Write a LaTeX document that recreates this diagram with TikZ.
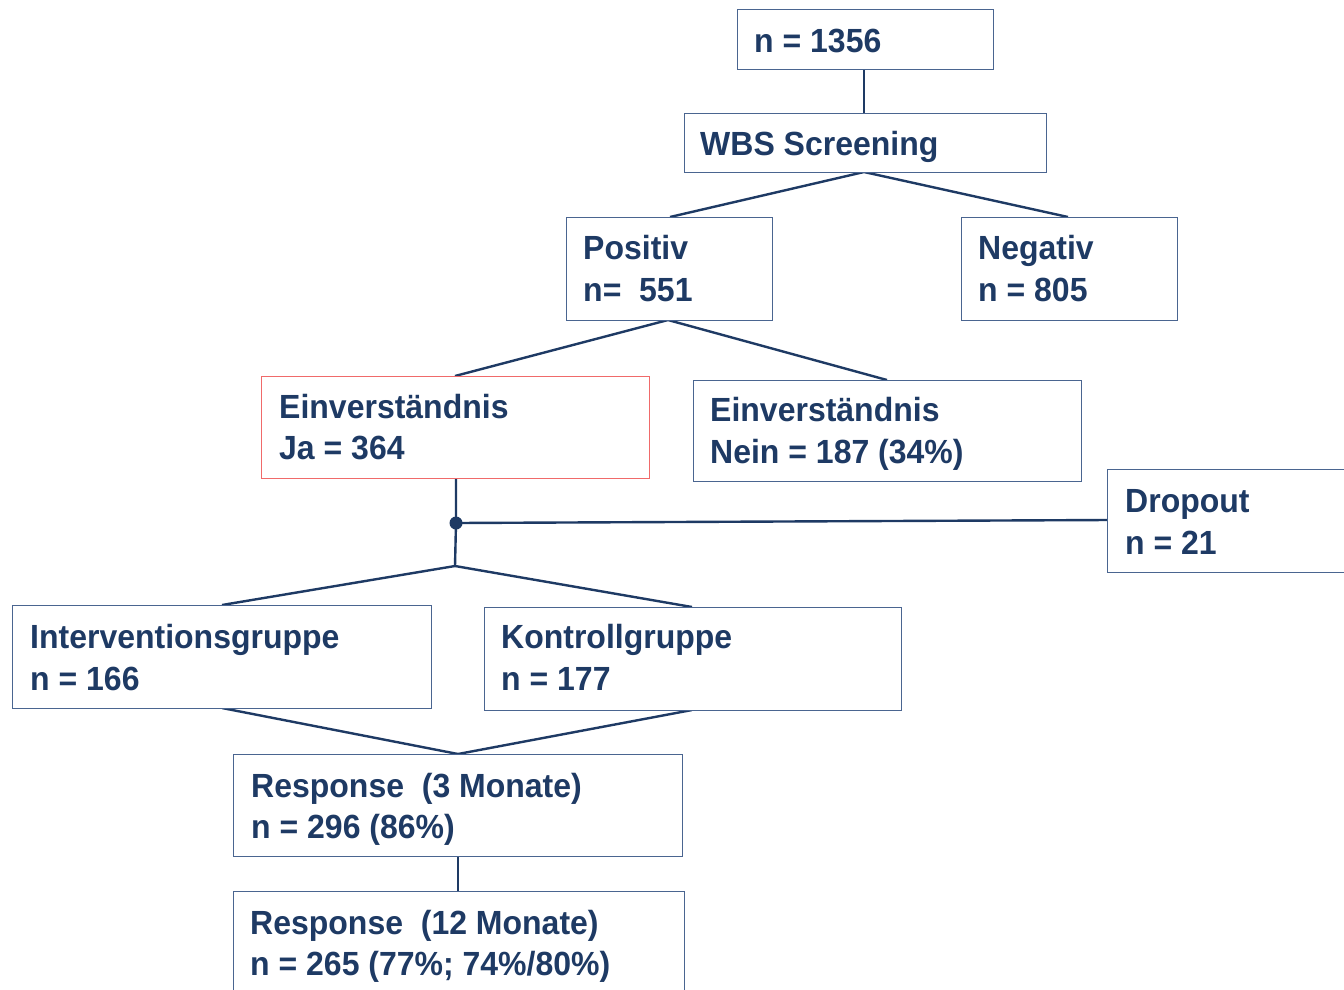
\documentclass[tikz,border=0pt]{standalone}
\usepackage{fontspec}
\setmainfont{Liberation Sans}[FakeStretch=0.955]
\definecolor{navy}{HTML}{1E3A64}
\definecolor{boxline}{HTML}{4A6590}
\definecolor{redline}{HTML}{F06A6A}
\tikzset{
  box/.style={draw=boxline, line width=1.3pt, fill=white, rectangle, inner sep=0pt, anchor=north west},
  redbox/.style={box, draw=redline},
  txt/.style={text=navy, font=\fontsize{33.5}{40}\selectfont\bfseries, inner sep=0pt, anchor=base west},
  conn/.style={draw=navy, line width=2.4pt},
}
\begin{document}
\begin{tikzpicture}[x=1pt,y=-1pt]
\useasboundingbox (0,0) rectangle (1344,989);
\clip (0,0) rectangle (1344,989);
\fill[white] (0,0) rectangle (1344,989);
% connector points
\coordinate (j1) at (456,523);
\coordinate (j2) at (455,566);
\coordinate (top1) at (864,69);
\coordinate (w1) at (864,113);
\coordinate (w2) at (864,172);
\coordinate (p1) at (670,217);
\coordinate (n1) at (1068,217);
\coordinate (p2) at (668,320);
\coordinate (e1) at (455,376);
\coordinate (e2) at (887,380);
\coordinate (e3) at (456,478);
\coordinate (d1) at (1107,520);
\coordinate (i1) at (222,605);
\coordinate (k1) at (692,607);
\coordinate (i2) at (222,708);
\coordinate (k2) at (692,710);
\coordinate (r1) at (458,754);
\coordinate (r2) at (458,856);
\coordinate (r3) at (458,891);
\draw[conn] (top1) -- (w1);
\draw[conn] (p1) -- (w2) -- (n1);
\draw[conn] (e1) -- (p2) -- (e2);
\draw[conn] (e3) -- (j1) -- (j2);
\draw[conn] (j1) -- (d1);
\draw[conn] (i1) -- (j2) -- (k1);
\draw[conn] (i2) -- (r1) -- (k2);
\draw[conn] (r2) -- (r3);
\fill[navy] (j1) circle (6.5);
% boxes
\node[box, minimum width=256pt, minimum height=60pt] (b1) at (737,9) {};
\node[box, minimum width=362pt, minimum height=59pt] (b2) at (684,113) {};
\node[box, minimum width=206pt, minimum height=103pt] (b3) at (566,217) {};
\node[box, minimum width=216pt, minimum height=103pt] (b4) at (961,217) {};
\node[redbox, minimum width=388pt, minimum height=102pt] (b5) at (261,376) {};
\node[box, minimum width=388pt, minimum height=101pt] (b6) at (693,380) {};
\node[box, minimum width=260pt, minimum height=103pt] (b7) at (1107,469) {};
\node[box, minimum width=419pt, minimum height=103pt] (b8) at (12,605) {};
\node[box, minimum width=417pt, minimum height=103pt] (b9) at (484,607) {};
\node[box, minimum width=449pt, minimum height=102pt] (b10) at (233,754) {};
\node[box, minimum width=451pt, minimum height=120pt] (b11) at (233,891) {};
% texts
\node[txt] (t1) at (754,52) {n = 1356};
\node[txt] (t2) at (700,155) {WBS Screening};
\node[txt] (t3a) at (583,259) {Positiv};
\node[txt] (t3b) at (583,301) {n=~~551};
\node[txt] (t4a) at (978,259) {Negativ};
\node[txt] (t4b) at (978,301) {n = 805};
\node[txt] (t5a) at (279,418) {Einverständnis};
\node[txt] (t5b) at (279,459) {Ja = 364};
\node[txt] (t6a) at (710,421) {Einverständnis};
\node[txt] (t6b) at (710,463) {Nein = 187 (34\%)};
\node[txt] (t7a) at (1125,512) {Dropout};
\node[txt] (t7b) at (1125,554) {n = 21};
\node[txt] (t8a) at (30,648) {Interventionsgruppe};
\node[txt] (t8b) at (30,690) {n = 166};
\node[txt] (t9a) at (501,648) {Kontrollgruppe};
\node[txt] (t9b) at (501,690) {n = 177};
\node[txt] (t10a) at (251,797) {Response~~(3 Monate)};
\node[txt] (t10b) at (251,838) {n = 296 (86\%)};
\node[txt] (t11a) at (250,934) {Response~~(12 Monate)};
\node[txt] (t11b) at (250,975) {n = 265 (77\%; 74\%/80\%)};
\end{tikzpicture}
\end{document}
